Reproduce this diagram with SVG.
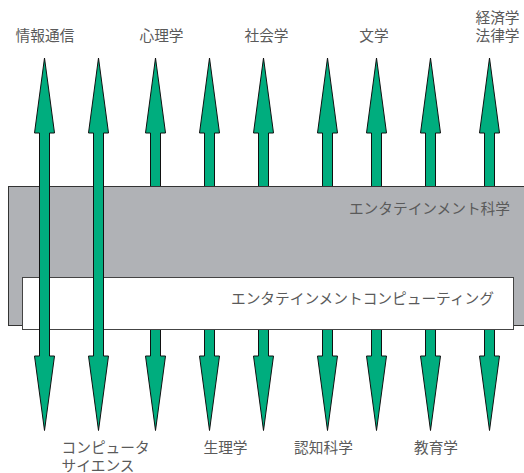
<svg xmlns="http://www.w3.org/2000/svg" xmlns:xlink="http://www.w3.org/1999/xlink" width="524" height="473" viewBox="0 0 524 473">
<style>
text{font-family:"Noto Sans CJK JP","Noto Sans",sans-serif;font-size:14.7px;fill:#5a5a5a;}
.m{text-anchor:middle;}
.e{text-anchor:end;}
.arr{fill:#00AD7E;stroke:#111;stroke-width:1;stroke-linejoin:miter;}
</style>
<defs>
<path id="dbl" d="M0,58 L10,133 L5,133 L5,356 L10,356 L0,430.5 L-10,356 L-5,356 L-5,133 L-10,133 Z"/>
</defs>
<rect width="524" height="473" fill="#fff"/>
<g id="connectors">
<use xlink:href="#dbl" class="arr" x="155.5"/>
<use xlink:href="#dbl" class="arr" x="209.5"/>
<use xlink:href="#dbl" class="arr" x="263.5"/>
<use xlink:href="#dbl" class="arr" x="327.5"/>
<use xlink:href="#dbl" class="arr" x="376.5"/>
<use xlink:href="#dbl" class="arr" x="430.5"/>
<use xlink:href="#dbl" class="arr" x="489.5"/>
</g>
<g id="science">
<rect x="8.5" y="186.5" width="530" height="139" fill="#B0B2B6" stroke="#333" stroke-width="1"/>
<text class="e" x="510" y="214">エンタテインメント科学</text>
</g>
<g id="computing">
<rect x="22.5" y="277.5" width="491" height="52" fill="#fff" stroke="#444" stroke-width="1"/>
<text class="e" x="494" y="304">エンタテインメントコンピューティング</text>
</g>
<g id="connectors-front">
<use xlink:href="#dbl" class="arr" x="44.5"/>
<use xlink:href="#dbl" class="arr" x="98.5"/>
</g>
<g id="joho"><text class="m" x="45" y="41">情報通信</text></g>
<g id="shinri"><text class="m" x="161.5" y="41">心理学</text></g>
<g id="shakai"><text class="m" x="266.5" y="41">社会学</text></g>
<g id="bun"><text class="m" x="374" y="41">文学</text></g>
<g id="keizai"><text class="m" x="497.5" y="23">経済学</text><text class="m" x="497.5" y="41">法律学</text></g>
<g id="cs"><text x="61.5" y="452.5">コンピュータ</text><text x="61.5" y="470.5">サイエンス</text></g>
<g id="seiri"><text class="m" x="225.5" y="452.5">生理学</text></g>
<g id="ninchi"><text class="m" x="323.5" y="452.5">認知科学</text></g>
<g id="kyoiku"><text class="m" x="436" y="452.5">教育学</text></g>
</svg>
